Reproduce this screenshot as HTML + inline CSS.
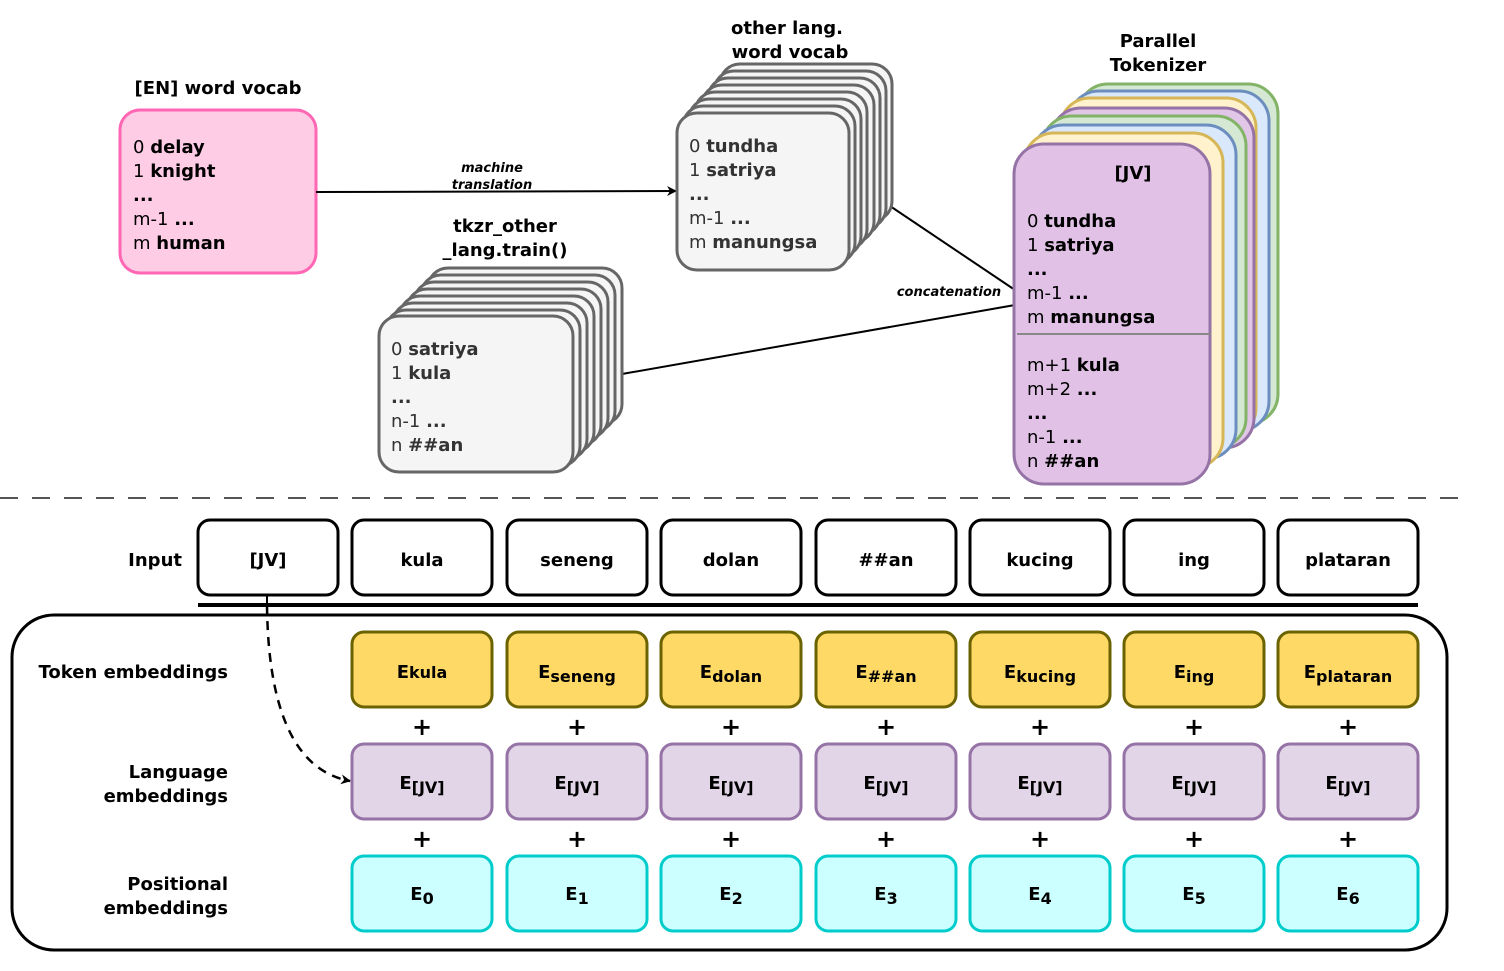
<!DOCTYPE html>
<html><head><meta charset="utf-8"><style>
html,body{margin:0;padding:0;background:#fff;}
svg{display:block;font-family:"DejaVu Sans","Liberation Sans",sans-serif;}
.b{font-weight:bold;}
text{font-size:18px;}
text.p{font-size:24px;font-weight:bold;}
text.s{font-size:13px;font-style:italic;font-weight:bold;}
</style></head><body>
<svg width="1504" height="971" viewBox="0 0 1504 971" xmlns="http://www.w3.org/2000/svg">
<defs>
<marker id="ar" markerWidth="10" markerHeight="10" refX="9" refY="5" orient="auto" markerUnits="userSpaceOnUse"><path d="M0,0 L10,5 L0,10 L3,5 z" fill="#000"/></marker>
</defs>

<!-- EN box -->
<text x="218" y="94" text-anchor="middle" class="b">[EN] word vocab</text>
<rect x="120" y="110" width="196" height="163" rx="20" fill="#ffcce6" stroke="#ff66b3" stroke-width="3"/>
<text x="133" y="153">0 <tspan class="b">delay</tspan></text>
<text x="133" y="177">1 <tspan class="b">knight</tspan></text>
<text x="133" y="201" class="b">...</text>
<text x="133" y="225">m-1 <tspan class="b">...</tspan></text>
<text x="133" y="249">m <tspan class="b">human</tspan></text>

<!-- machine translation arrow -->
<line x1="316" y1="192" x2="676" y2="191" stroke="#000" stroke-width="2" marker-end="url(#ar)"/>
<text x="492" y="172" text-anchor="middle" class="s">machine</text>
<text x="492" y="189" text-anchor="middle" class="s">translation</text>

<!-- concat lines -->
<line x1="890" y1="206" x2="1015" y2="290" stroke="#000" stroke-width="2"/>
<line x1="622" y1="374" x2="1015" y2="305" stroke="#000" stroke-width="2"/>
<text x="949" y="296" text-anchor="middle" class="s">concatenation</text>

<!-- other lang stack -->
<text x="787" y="34" text-anchor="middle" class="b">other lang.</text>
<text x="790" y="58" text-anchor="middle" class="b">word vocab</text>
<g fill="#f5f5f5" stroke="#666" stroke-width="3">
<rect x="720" y="64" width="172" height="157" rx="20"/>
<rect x="714" y="71" width="172" height="157" rx="20"/>
<rect x="708" y="78" width="172" height="157" rx="20"/>
<rect x="702" y="85" width="172" height="157" rx="20"/>
<rect x="695" y="92" width="172" height="157" rx="20"/>
<rect x="689" y="99" width="172" height="157" rx="20"/>
<rect x="683" y="106" width="172" height="157" rx="20"/>
<rect x="677" y="113" width="172" height="157" rx="20"/>
</g>
<g fill="#333">
<text x="689" y="152">0 <tspan class="b">tundha</tspan></text>
<text x="689" y="176">1 <tspan class="b">satriya</tspan></text>
<text x="689" y="200" class="b">...</text>
<text x="689" y="224">m-1 <tspan class="b">...</tspan></text>
<text x="689" y="248">m <tspan class="b">manungsa</tspan></text>
</g>

<!-- tkzr stack -->
<text x="505" y="232" text-anchor="middle" class="b">tkzr_other</text>
<text x="505" y="256" text-anchor="middle" class="b">_lang.train()</text>
<g fill="#f5f5f5" stroke="#666" stroke-width="3">
<rect x="428" y="268" width="194" height="156" rx="20"/>
<rect x="421" y="275" width="194" height="156" rx="20"/>
<rect x="414" y="282" width="194" height="156" rx="20"/>
<rect x="407" y="289" width="194" height="156" rx="20"/>
<rect x="400" y="296" width="194" height="156" rx="20"/>
<rect x="393" y="303" width="194" height="156" rx="20"/>
<rect x="386" y="310" width="194" height="156" rx="20"/>
<rect x="379" y="316" width="194" height="156" rx="20"/>
</g>
<g fill="#333">
<text x="391" y="355">0 <tspan class="b">satriya</tspan></text>
<text x="391" y="379">1 <tspan class="b">kula</tspan></text>
<text x="391" y="403" class="b">...</text>
<text x="391" y="427">n-1 <tspan class="b">...</tspan></text>
<text x="391" y="451">n <tspan class="b">##an</tspan></text>
</g>

<!-- Parallel tokenizer -->
<text x="1158" y="47" text-anchor="middle" class="b">Parallel</text>
<text x="1158" y="71" text-anchor="middle" class="b">Tokenizer</text>
<g stroke-width="3">
<rect x="1078" y="84" width="200" height="340" rx="30" fill="#d5e8d4" stroke="#82b366"/>
<rect x="1069" y="91" width="200" height="340" rx="30" fill="#dae8fc" stroke="#6c8ebf"/>
<rect x="1060" y="98" width="196" height="340" rx="30" fill="#fff2cc" stroke="#d6b656"/>
<rect x="1051" y="108" width="203" height="340" rx="30" fill="#e1c6e8" stroke="#9673a6"/>
<rect x="1042" y="116" width="204" height="332" rx="30" fill="#d5e8d4" stroke="#82b366"/>
<rect x="1033" y="125" width="203" height="334" rx="30" fill="#dae8fc" stroke="#6c8ebf"/>
<rect x="1024" y="133" width="199" height="335" rx="30" fill="#fff2cc" stroke="#d6b656"/>
<rect x="1014" y="144" width="196" height="340" rx="30" fill="#e1c2e6" stroke="#9673a6"/>
</g>
<line x1="1017" y1="334" x2="1211" y2="334" stroke="#888" stroke-width="2"/>
<text x="1133" y="179" text-anchor="middle" class="b">[JV]</text>
<text x="1027" y="227">0 <tspan class="b">tundha</tspan></text>
<text x="1027" y="251">1 <tspan class="b">satriya</tspan></text>
<text x="1027" y="275" class="b">...</text>
<text x="1027" y="299">m-1 <tspan class="b">...</tspan></text>
<text x="1027" y="323">m <tspan class="b">manungsa</tspan></text>
<text x="1027" y="371">m+1 <tspan class="b">kula</tspan></text>
<text x="1027" y="395">m+2 <tspan class="b">...</tspan></text>
<text x="1027" y="419" class="b">...</text>
<text x="1027" y="443">n-1 <tspan class="b">...</tspan></text>
<text x="1027" y="467">n <tspan class="b">##an</tspan></text>

<!-- separator -->
<line x1="0" y1="498" x2="1462" y2="498" stroke="#555" stroke-width="2" stroke-dasharray="18,14"/>

<!-- Input row -->
<text x="182" y="566" text-anchor="end" class="b">Input</text>
<g fill="#fff" stroke="#000" stroke-width="3">
<rect x="198" y="520" width="140" height="75" rx="12"/>
<rect x="352" y="520" width="140" height="75" rx="12"/>
<rect x="507" y="520" width="140" height="75" rx="12"/>
<rect x="661" y="520" width="140" height="75" rx="12"/>
<rect x="816" y="520" width="140" height="75" rx="12"/>
<rect x="970" y="520" width="140" height="75" rx="12"/>
<rect x="1124" y="520" width="140" height="75" rx="12"/>
<rect x="1278" y="520" width="140" height="75" rx="12"/>
</g>
<g text-anchor="middle" class="b">
<text x="268" y="566">[JV]</text>
<text x="422" y="566">kula</text>
<text x="577" y="566">seneng</text>
<text x="731" y="566">dolan</text>
<text x="886" y="566">##an</text>
<text x="1040" y="566">kucing</text>
<text x="1194" y="566">ing</text>
<text x="1348" y="566">plataran</text>
</g>
<line x1="198" y1="605" x2="1418" y2="605" stroke="#000" stroke-width="4"/>

<rect x="12" y="615" width="1435" height="335" rx="42" fill="none" stroke="#000" stroke-width="3"/>

<!-- dashed curve -->
<line x1="267" y1="595" x2="267" y2="605" stroke="#000" stroke-width="2"/>
<path d="M267,605 C268,700 290,770 350,781" fill="none" stroke="#000" stroke-width="2.5" stroke-dasharray="9,7" marker-end="url(#ar)"/>

<!-- row labels -->
<g class="b" text-anchor="end">
<text x="228" y="678">Token embeddings</text>
<text x="228" y="778">Language</text>
<text x="228" y="802">embeddings</text>
<text x="228" y="890">Positional</text>
<text x="228" y="914">embeddings</text>
</g>

<!-- Token embeddings -->
<g fill="#ffd966" stroke="#6b6300" stroke-width="3">
<rect x="352" y="632" width="140" height="75" rx="12"/>
<rect x="507" y="632" width="140" height="75" rx="12"/>
<rect x="661" y="632" width="140" height="75" rx="12"/>
<rect x="816" y="632" width="140" height="75" rx="12"/>
<rect x="970" y="632" width="140" height="75" rx="12"/>
<rect x="1124" y="632" width="140" height="75" rx="12"/>
<rect x="1278" y="632" width="140" height="75" rx="12"/>
</g>
<g text-anchor="middle" class="b">
<text x="422" y="678">E<tspan style="font-size:16px">kula</tspan></text>
<text x="577" y="678">E<tspan dy="4" style="font-size:16px">seneng</tspan></text>
<text x="731" y="678">E<tspan dy="4" style="font-size:16px">dolan</tspan></text>
<text x="886" y="678">E<tspan dy="4" style="font-size:16px">##an</tspan></text>
<text x="1040" y="678">E<tspan dy="4" style="font-size:16px">kucing</tspan></text>
<text x="1194" y="678">E<tspan dy="4" style="font-size:16px">ing</tspan></text>
<text x="1348" y="678">E<tspan dy="4" style="font-size:16px">plataran</tspan></text>
</g>

<!-- plus -->
<g text-anchor="middle">
<text class="p" x="422" y="735">+</text><text class="p" x="577" y="735">+</text><text class="p" x="731" y="735">+</text><text class="p" x="886" y="735">+</text><text class="p" x="1040" y="735">+</text><text class="p" x="1194" y="735">+</text><text class="p" x="1348" y="735">+</text>
<text class="p" x="422" y="847">+</text><text class="p" x="577" y="847">+</text><text class="p" x="731" y="847">+</text><text class="p" x="886" y="847">+</text><text class="p" x="1040" y="847">+</text><text class="p" x="1194" y="847">+</text><text class="p" x="1348" y="847">+</text>
</g>

<!-- Language embeddings -->
<g fill="#e1d5e7" stroke="#9673a6" stroke-width="3">
<rect x="352" y="744" width="140" height="75" rx="12"/>
<rect x="507" y="744" width="140" height="75" rx="12"/>
<rect x="661" y="744" width="140" height="75" rx="12"/>
<rect x="816" y="744" width="140" height="75" rx="12"/>
<rect x="970" y="744" width="140" height="75" rx="12"/>
<rect x="1124" y="744" width="140" height="75" rx="12"/>
<rect x="1278" y="744" width="140" height="75" rx="12"/>
</g>
<g text-anchor="middle" class="b">
<text x="422" y="789">E<tspan dy="4" style="font-size:16px">[JV]</tspan></text>
<text x="577" y="789">E<tspan dy="4" style="font-size:16px">[JV]</tspan></text>
<text x="731" y="789">E<tspan dy="4" style="font-size:16px">[JV]</tspan></text>
<text x="886" y="789">E<tspan dy="4" style="font-size:16px">[JV]</tspan></text>
<text x="1040" y="789">E<tspan dy="4" style="font-size:16px">[JV]</tspan></text>
<text x="1194" y="789">E<tspan dy="4" style="font-size:16px">[JV]</tspan></text>
<text x="1348" y="789">E<tspan dy="4" style="font-size:16px">[JV]</tspan></text>
</g>

<!-- Positional -->
<g fill="#ccffff" stroke="#00cccc" stroke-width="3">
<rect x="352" y="856" width="140" height="75" rx="12"/>
<rect x="507" y="856" width="140" height="75" rx="12"/>
<rect x="661" y="856" width="140" height="75" rx="12"/>
<rect x="816" y="856" width="140" height="75" rx="12"/>
<rect x="970" y="856" width="140" height="75" rx="12"/>
<rect x="1124" y="856" width="140" height="75" rx="12"/>
<rect x="1278" y="856" width="140" height="75" rx="12"/>
</g>
<g text-anchor="middle" class="b">
<text x="422" y="900">E<tspan dy="4" style="font-size:16px">0</tspan></text>
<text x="577" y="900">E<tspan dy="4" style="font-size:16px">1</tspan></text>
<text x="731" y="900">E<tspan dy="4" style="font-size:16px">2</tspan></text>
<text x="886" y="900">E<tspan dy="4" style="font-size:16px">3</tspan></text>
<text x="1040" y="900">E<tspan dy="4" style="font-size:16px">4</tspan></text>
<text x="1194" y="900">E<tspan dy="4" style="font-size:16px">5</tspan></text>
<text x="1348" y="900">E<tspan dy="4" style="font-size:16px">6</tspan></text>
</g>
</svg>
</body></html>
